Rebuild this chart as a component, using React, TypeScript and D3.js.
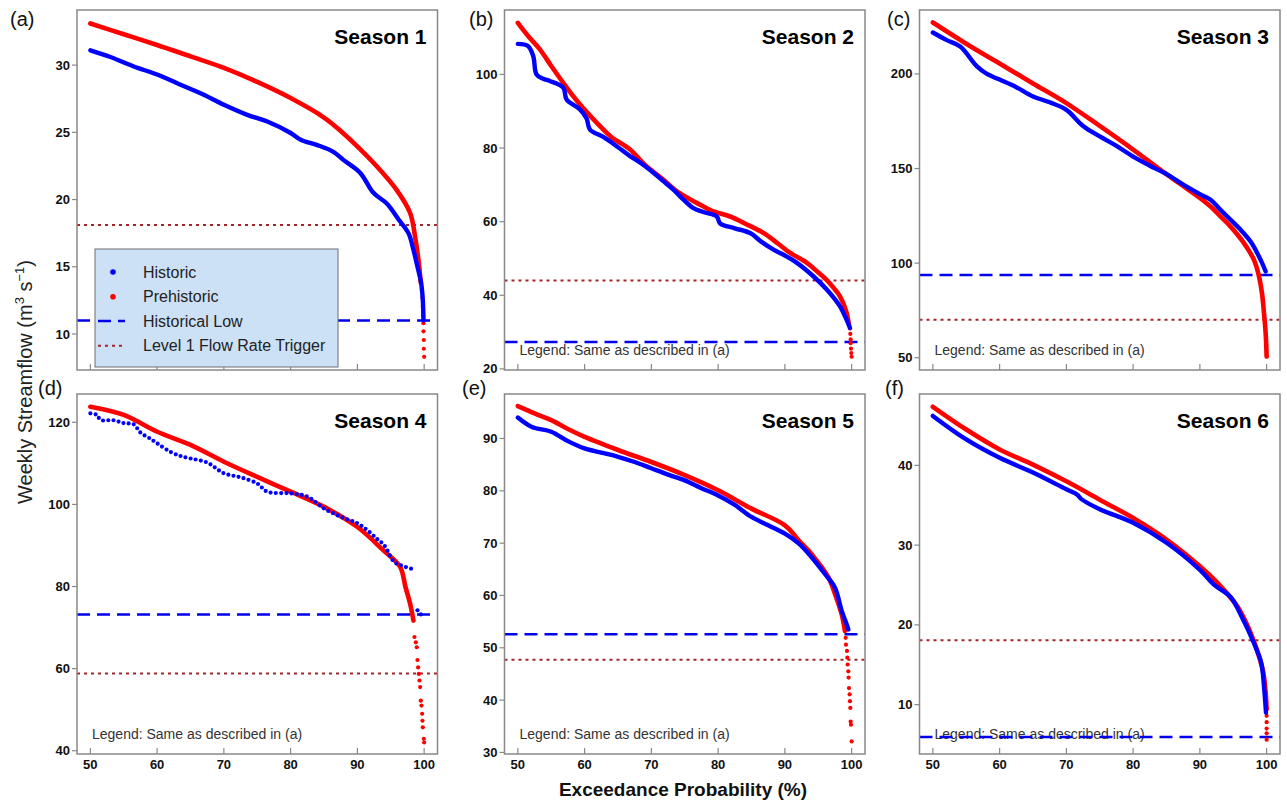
import React, { useEffect } from 'react';
import * as d3 from 'd3';

type Pt = [number, number];

// ---------- data ----------
const seasonTitles = ['Season 1', 'Season 2', 'Season 3', 'Season 4', 'Season 5', 'Season 6'];
const panelLabels = ['(a)', '(b)', '(c)', '(d)', '(e)', '(f)'];
const xTicks = [50, 60, 70, 80, 90, 100];
const xDomain: [number, number] = [48, 102];
const yDomains: [number, number][] = [
  [7.32, 34.1], [19.7, 117.5], [43.5, 233.8], [39.2, 126.9], [29.7, 98.5], [3.81, 48.95],
];
const yTicks: number[][] = [
  [10, 15, 20, 25, 30], [20, 40, 60, 80, 100], [50, 100, 150, 200],
  [40, 60, 80, 100, 120], [30, 40, 50, 60, 70, 80, 90], [10, 20, 30, 40],
];
const historicalLows = [11.0, 27.3, 93.7, 73.2, 52.6, 5.95];
const level1Triggers = [18.1, 44.0, 70.0, 58.8, 47.7, 18.07];
const legendLabels = ['Historic', 'Prehistoric', 'Historical Low', 'Level 1 Flow Rate Trigger'];

// Season 1
const historic1: Pt[] = [[50, 31.1], [53, 30.6], [56.5, 29.9], [60, 29.3], [63, 28.65], [66.5, 27.9], [70, 27.05], [73.5, 26.3], [76.5, 25.8], [80, 24.95], [81.5, 24.45], [84, 24.05], [86.4, 23.55], [87.9, 22.95], [90.4, 22.0], [92.4, 20.5], [94.4, 19.7], [96.2, 18.5], [97.65, 17.5], [98.4, 16.25], [99.0, 15.0], [99.55, 13.8], [99.8, 12.5], [99.9, 11.0]];
const historic1Tail: Pt[] = [];
const prehistoric1: Pt[] = [[50, 33.1], [55, 32.3], [60, 31.5], [65, 30.65], [70, 29.8], [75, 28.75], [80, 27.55], [85, 26.1], [87.5, 25.1], [90.4, 23.75], [93.4, 22.2], [95.9, 20.7], [97.9, 19.0], [98.65, 17.2], [99.15, 15.5], [99.5, 13.8]];
const prehistoric1Tail: Pt[] = [[99.65, 13.3], [99.75, 12.7], [99.8, 12.0], [99.85, 11.4], [99.9, 10.8], [99.9, 10.2], [99.95, 9.55], [99.95, 8.9], [100, 8.3]];

// Season 2
const historic2: Pt[] = [[50, 108.3], [51.5, 107.7], [52.3, 105], [52.8, 100], [53.8, 98.8], [54.8, 98.2], [56.8, 96.4], [57.3, 93.2], [59.3, 90.5], [60.3, 88], [60.8, 85.0], [62.8, 83], [64.8, 80.5], [66.8, 77.8], [68.5, 75.8], [70.3, 73.3], [71.8, 71], [73.3, 68.7], [74.8, 66], [76.3, 63.7], [78, 62.5], [79.8, 61.4], [80.3, 59.5], [82.5, 58.2], [84.8, 56.9], [86.5, 54.5], [88.3, 52.4], [90, 50.8], [91.8, 48.8], [94.3, 45.1], [96.3, 41.5], [98.25, 37.0], [99.25, 33.3], [99.75, 31.1]];
const historic2Tail: Pt[] = [];
const prehistoric2: Pt[] = [[50, 114], [51.5, 110.5], [53.3, 106.8], [55, 102.3], [56.8, 97.7], [59, 92.5], [61.8, 86.9], [64, 83], [66.8, 79.6], [69, 75.5], [71.8, 71.4], [74, 68], [76.8, 65.1], [79, 63], [81.8, 61.4], [84, 59.5], [86.8, 56.9], [89, 54], [90.8, 51.5], [93.3, 48.8], [95, 46.2], [96.25, 44.2], [97.3, 42], [98.25, 39.7], [99.25, 35.2], [99.6, 32]];
const prehistoric2Tail: Pt[] = [[99.75, 31.0], [99.8, 29.5], [99.85, 28], [99.85, 27], [99.9, 25.5], [99.95, 24.3], [100, 23.3]];

// Season 3
const historic3: Pt[] = [[50, 221.9], [52, 218], [54.1, 214.5], [56.6, 204], [58.1, 200], [60, 197], [62.5, 193], [65, 188.1], [67.5, 185], [70, 181], [72.5, 172.5], [75, 167], [77.5, 162], [80, 156.3], [82.5, 151.5], [85, 147], [87.5, 141.5], [90, 136.5], [91.6, 133.5], [93, 128.5], [94.6, 122.9], [96, 118], [97.6, 111.4], [99.1, 101.7], [99.85, 95.6]];
const historic3Tail: Pt[] = [];
const prehistoric3: Pt[] = [[50, 227.2], [55, 216], [60, 205.5], [65, 195], [70, 184.6], [75, 172.5], [80, 160], [84, 149.5], [87, 142], [90, 134.5], [91.6, 129.9], [93, 125], [94.6, 119.3], [96.6, 110.6], [98.1, 101.7], [98.8, 93.8], [99.3, 84.1], [99.6, 73.6], [99.85, 63.0], [100, 50.6]];
const prehistoric3Tail: Pt[] = [];

// Season 4
const historic4: Pt[] = [[50, 122.2], [51, 121.8], [51.5, 120.6], [53.5, 120.5], [55, 119.8], [56.5, 119.5], [57.5, 117.5], [59, 116], [60, 114.9], [62, 112.8], [63.5, 111.8], [65, 111.2], [67.5, 110.2], [70, 107.6], [72.5, 106.6], [75, 105.1], [76.5, 103.1], [80, 102.7], [82.5, 101.9], [85, 99.0], [87.5, 97], [90, 95.4], [91.5, 93.7], [93, 91.5], [94, 90.1], [95.5, 86.0], [96.5, 85.2], [98.5, 84.1]];
const historic4Tail: Pt[] = [[99.0, 74.2], [99.5, 73.2]];
const prehistoric4: Pt[] = [[50, 123.8], [55, 121.8], [60, 117.7], [65, 114.5], [70, 110.4], [75, 106.7], [80, 103.1], [85, 99.4], [90, 94.5], [93.9, 88.8], [96.4, 84.8], [97.2, 79.9], [97.9, 75.8], [98.4, 71.7]];
const prehistoric4Tail: Pt[] = [[98.55, 67.7], [98.75, 66.4], [98.9, 65.2], [99.0, 62.1], [99.1, 60.3], [99.2, 58.7], [99.3, 57.1], [99.4, 55.5], [99.5, 52.2], [99.6, 51.0], [99.7, 49.0], [99.75, 47.3], [99.8, 45.7], [99.95, 42.9], [100, 42.0]];

// Season 5
const historic5: Pt[] = [[50, 94.0], [52.1, 92.2], [55, 91.3], [57.5, 89.5], [60, 88.1], [62.5, 87.3], [65, 86.5], [67.5, 85.5], [70, 84.3], [72.5, 83.1], [75, 82.0], [77.5, 80.5], [80, 79.1], [82.5, 77.3], [85, 75.0], [87.5, 73.4], [90, 71.8], [92.1, 69.9], [94, 67.3], [96, 64.1], [97.5, 61.5], [98.5, 57.1], [99.25, 54.5], [99.5, 53.5]];
const historic5Tail: Pt[] = [];
const prehistoric5: Pt[] = [[50, 96.2], [52.5, 94.8], [55, 93.5], [57.5, 91.8], [60, 90.3], [65, 87.8], [70, 85.5], [75, 83.0], [80, 80.1], [85, 76.6], [90, 73.4], [92.1, 70.5], [94, 67.9], [96.5, 63.5], [97.5, 60.3], [98.5, 56.4], [99.0, 53.2]];
const prehistoric5Tail: Pt[] = [[99.1, 51.9], [99.15, 50.6], [99.3, 49.4], [99.35, 48.1], [99.4, 46.8], [99.5, 45.5], [99.55, 44.3], [99.6, 42.3], [99.7, 41.1], [99.75, 39.8], [99.8, 38.5], [99.85, 35.9], [99.9, 35.3], [100, 32.1]];

// Season 6
const historic6: Pt[] = [[50, 46.2], [55, 43.25], [60, 40.95], [65, 39.1], [70, 37.0], [71.6, 36.35], [72.2, 35.8], [75, 34.5], [80, 32.8], [85, 30.3], [90, 26.9], [92.1, 25.05], [94.6, 23.5], [96.1, 21.3], [98.1, 17.7], [99.2, 15.2], [99.6, 12.3], [99.9, 9.0]];
const historic6Tail: Pt[] = [];
const prehistoric6: Pt[] = [[50, 47.35], [55, 44.5], [60, 42.0], [65, 40.1], [70, 38.0], [75, 35.7], [80, 33.4], [85, 30.7], [90, 27.35], [92.6, 25.3], [95.1, 22.9], [96, 21.8], [97.6, 19.0], [98.85, 16.06], [99.5, 14.0], [99.85, 11.5], [100, 9.4]];
const prehistoric6Tail: Pt[] = [[100, 8.6], [100, 7.8], [100, 7.0], [100, 6.4], [100, 5.6]];

const historicSeries = [historic1, historic2, historic3, historic4, historic5, historic6];
const historicTails = [historic1Tail, historic2Tail, historic3Tail, historic4Tail, historic5Tail, historic6Tail];
const prehistoricSeries = [prehistoric1, prehistoric2, prehistoric3, prehistoric4, prehistoric5, prehistoric6];
const prehistoricTails = [prehistoric1Tail, prehistoric2Tail, prehistoric3Tail, prehistoric4Tail, prehistoric5Tail, prehistoric6Tail];

// ---------- layout / style ----------
const W = 1287, H = 802;
const colLeft = [77, 504.5, 919.5];
const rowTop = [10, 394];
const plotW = 360.5, plotH = 360;
const labelXs = [[10, 469, 887], [38, 462, 885]];
const labelBaseline = [26, 395];
const FONT = '"Liberation Sans", Arial, Helvetica, sans-serif';
const RED = '#ff0000';
const BLUE = '#0000ff';
const LOWC = '#0000ee';
const TRIG = '#a3262a';
const FRAME = '#888888';

function Panel({ i }: { i: number }) {
  const col = i % 3, row = Math.floor(i / 3);
  const left = colLeft[col], top = rowTop[row];
  const right = left + plotW, bottom = top + plotH;
  const x = d3.scaleLinear().domain(xDomain).range([left, right]);
  const y = d3.scaleLinear().domain(yDomains[i]).range([bottom, top]);
  const line = d3.line<Pt>().x(d => x(d[0])).y(d => y(d[1])).curve(d3.curveCatmullRom.alpha(0.5));
  const clipId = `clip${i}`;
  const dottedHist = i === 3;
  return (
    <g>
      <defs>
        <clipPath id={clipId}><rect x={left} y={top} width={plotW} height={plotH} /></clipPath>
      </defs>
      <rect x={left} y={top} width={plotW} height={plotH} fill="#fff" />
      {i !== 0 && (
        <text x={left + 15} y={bottom - 15} fontSize={14} fill="#333" fontFamily={FONT}>
          Legend: Same as described in (a)
        </text>
      )}
      <g clipPath={`url(#${clipId})`}>
        <line x1={left} x2={right} y1={y(level1Triggers[i])} y2={y(level1Triggers[i])} stroke={TRIG} strokeWidth={2} strokeDasharray="3 4" />
        <line x1={left} x2={right} y1={y(historicalLows[i])} y2={y(historicalLows[i])} stroke={LOWC} strokeWidth={2.5} strokeDasharray="13 7" />
        <path d={line(prehistoricSeries[i]) || ''} fill="none" stroke={RED} strokeWidth={4.6} strokeLinecap="round" strokeLinejoin="round" />
        {prehistoricTails[i].map((d, k) => (
          <circle key={'pt' + k} cx={x(d[0])} cy={y(d[1])} r={2.1} fill={RED} />
        ))}
        <path d={line(historicSeries[i]) || ''} fill="none" stroke={BLUE}
          strokeWidth={dottedHist ? 4.2 : 4.4} strokeLinecap="round" strokeLinejoin="round"
          strokeDasharray={dottedHist ? '0 5.2' : undefined} />
        {historicTails[i].map((d, k) => (
          <circle key={'ht' + k} cx={x(d[0])} cy={y(d[1])} r={2.1} fill={BLUE} />
        ))}
      </g>
      <rect x={left} y={top} width={plotW} height={plotH} fill="none" stroke={FRAME} strokeWidth={1.5} />
      {yTicks[i].map(t => (
        <g key={'y' + t}>
          <line x1={left - 5} x2={left} y1={y(t)} y2={y(t)} stroke={FRAME} strokeWidth={1.2} />
          <text x={left - 7} y={y(t)} dy="0.35em" textAnchor="end" fontSize={13} fontWeight="bold" fontFamily={FONT} fill="#111">{t}</text>
        </g>
      ))}
      {xTicks.map(t => (
        <g key={'x' + t}>
          <line x1={x(t)} x2={x(t)} y1={bottom - 6} y2={bottom} stroke={FRAME} strokeWidth={1.2} />
          {row === 1 && (
            <text x={x(t)} y={bottom + 15} textAnchor="middle" fontSize={13} fontWeight="bold" fontFamily={FONT} fill="#111">{t}</text>
          )}
        </g>
      ))}
      <text x={right - 11} y={top + 34} textAnchor="end" fontSize={21} fontWeight="bold" fontFamily={FONT} fill="#000">{seasonTitles[i]}</text>
      <text x={labelXs[row][col]} y={labelBaseline[row]} fontSize={20} fontFamily={FONT} fill="#111">{panelLabels[i]}</text>
      {i === 0 && <Legend left={left} bottom={bottom} />}
    </g>
  );
}

function Legend({ left, bottom }: { left: number; bottom: number }) {
  const bx = left + 18, by = bottom - 121, bw = 243, bh = 118;
  const rowsY = [272, 296.7, 321, 345.7].map(v => v - 249 + by);
  const mx = bx + 18, lx1 = bx + 3, lx2 = bx + 30, tx = bx + 48;
  return (
    <g>
      <rect x={bx} y={by} width={bw} height={bh} fill="#cce0f6" stroke="#6f6f6f" strokeWidth={1} />
      <circle cx={mx} cy={rowsY[0]} r={2.8} fill={BLUE} />
      <circle cx={mx} cy={rowsY[1]} r={2.8} fill={RED} />
      <line x1={lx1} x2={lx2} y1={rowsY[2]} y2={rowsY[2]} stroke={LOWC} strokeWidth={2.5} strokeDasharray="13 7" />
      <line x1={lx1} x2={lx2} y1={rowsY[3]} y2={rowsY[3]} stroke={TRIG} strokeWidth={2} strokeDasharray="3 4" />
      {legendLabels.map((l, k) => (
        <text key={l} x={tx} y={rowsY[k]} dy="0.35em" fontSize={16} fontFamily={FONT} fill="#222">{l}</text>
      ))}
    </g>
  );
}

export default function App() {
  useEffect(() => {
    document.body.style.margin = '0';
  }, []);
  return (
    <svg width={W} height={H} viewBox={`0 0 ${W} ${H}`} style={{ position: 'absolute', left: 0, top: 0, background: '#fff' }}>
      <rect x={0} y={0} width={W} height={H} fill="#fff" />
      {[0, 1, 2, 3, 4, 5].map(i => <Panel key={i} i={i} />)}
      <text transform="translate(32,382) rotate(-90)" textAnchor="middle" fontSize={20} fontFamily={FONT} fill="#222">
        Weekly Streamflow (m<tspan dy={-8} fontSize={13}>3</tspan><tspan dy={8}> s</tspan><tspan dy={-8} fontSize={13}>−1</tspan><tspan dy={8}>)</tspan>
      </text>
      <text x={683} y={796} textAnchor="middle" fontSize={19} fontWeight="bold" fontFamily={FONT} fill="#111">Exceedance Probability (%)</text>
    </svg>
  );
}
